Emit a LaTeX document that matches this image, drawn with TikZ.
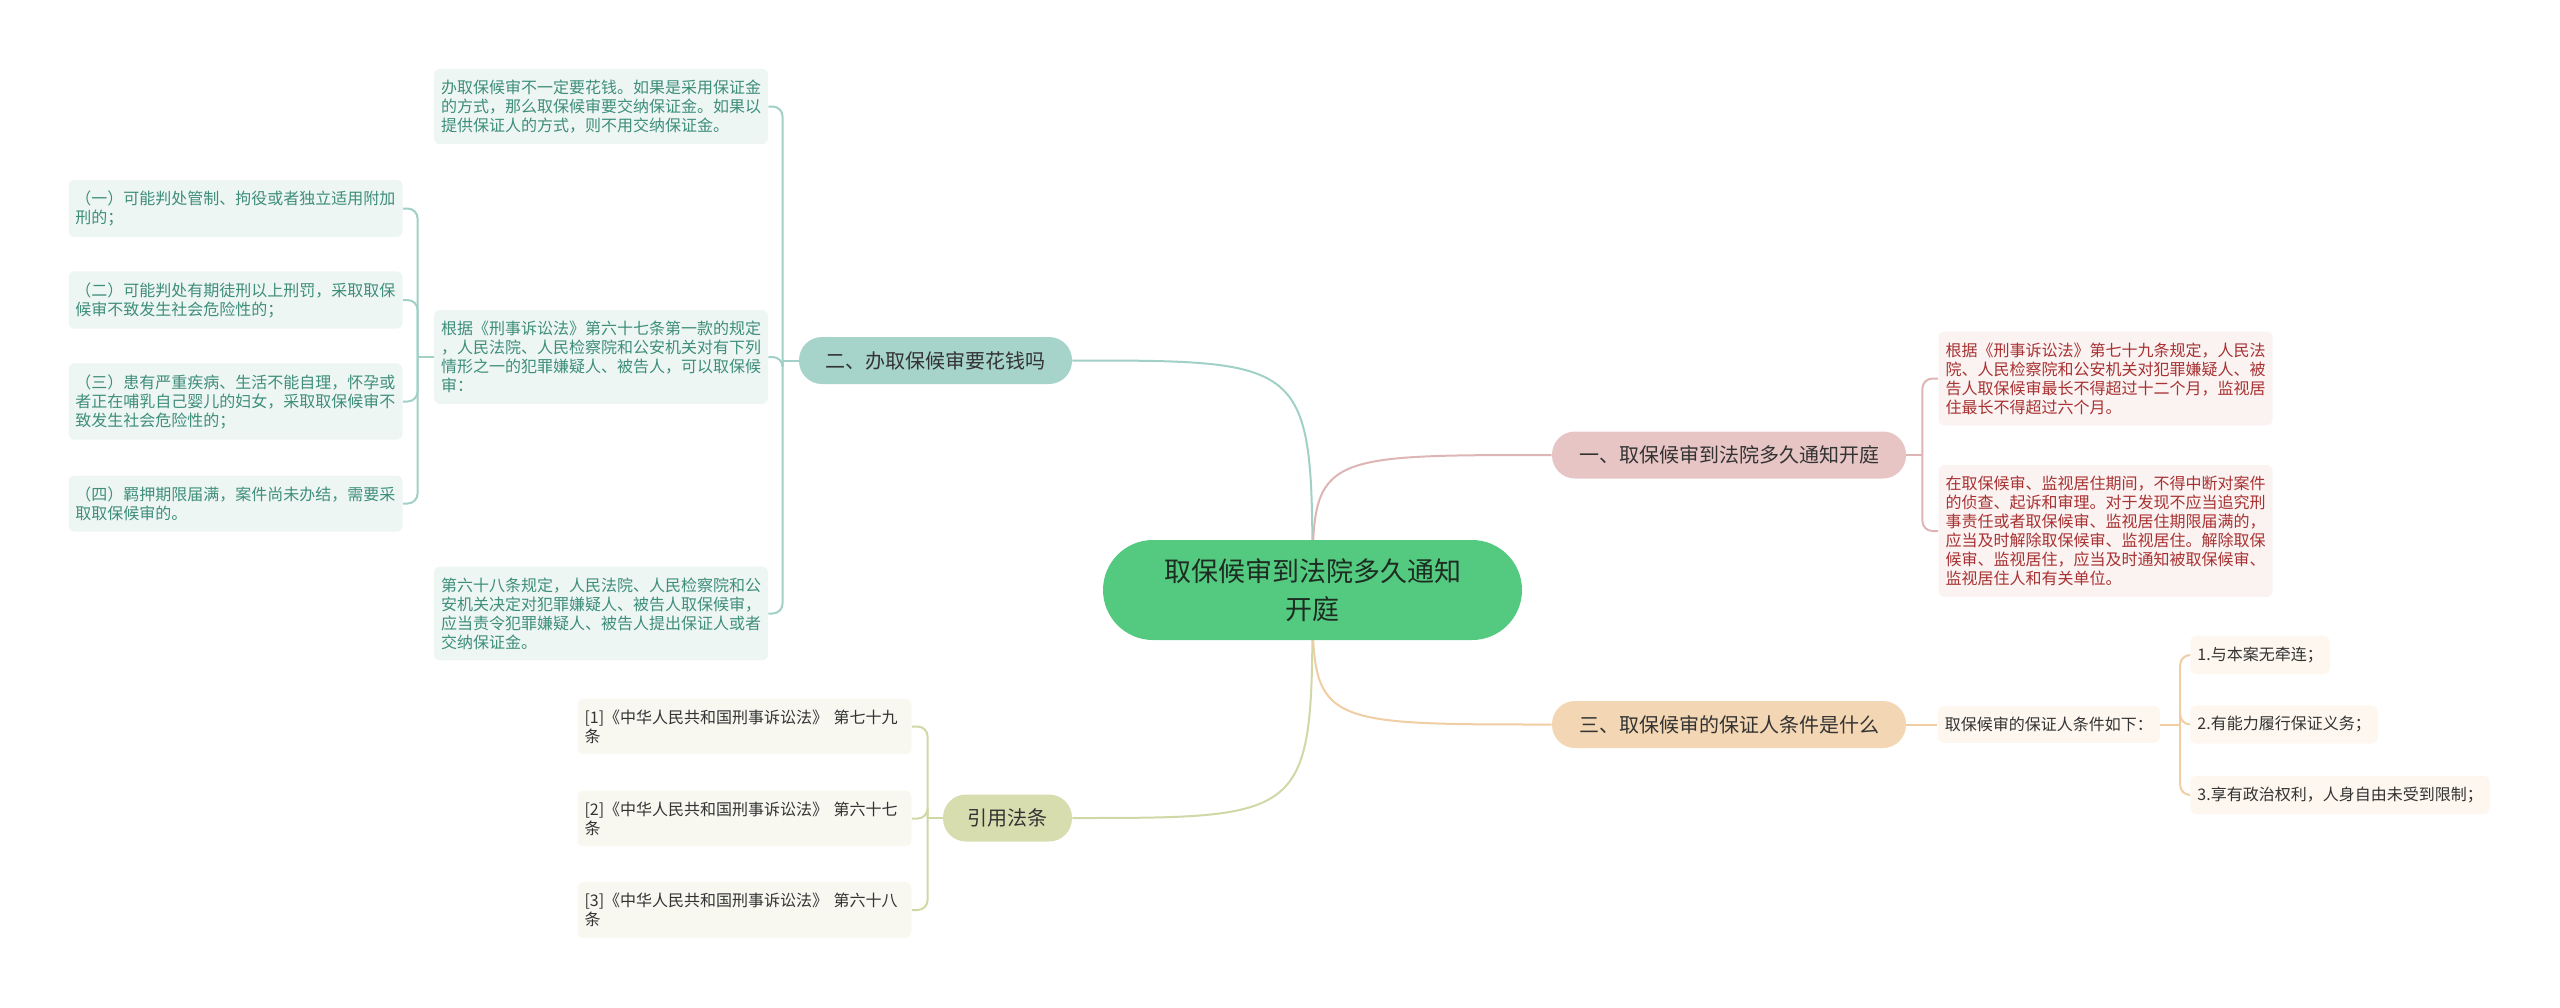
\documentclass[tikz,border=0pt]{standalone}
\usepackage{fontspec}
\setmainfont{Noto Sans CJK SC}
\usepackage{xcolor}
\usetikzlibrary{backgrounds,positioning}
\definecolor{cengreen}{HTML}{54CA80}
\definecolor{rootink}{HTML}{1D2D22}
\definecolor{topicink}{HTML}{333333}
\definecolor{tealtopic}{HTML}{A6D3CA}
\definecolor{tealfill}{HTML}{EEF6F4}
\definecolor{tealink}{HTML}{3E8E7A}
\definecolor{tealline}{HTML}{A0D0C6}
\definecolor{olivetopic}{HTML}{D8DDAF}
\definecolor{olivefill}{HTML}{F8F8F1}
\definecolor{oliveline}{HTML}{D2D7A6}
\definecolor{pinktopic}{HTML}{E8C5C5}
\definecolor{pinkfill}{HTML}{FBF2F2}
\definecolor{pinkink}{HTML}{A83232}
\definecolor{pinkline}{HTML}{DEB5B5}
\definecolor{orangetopic}{HTML}{F3D6B3}
\definecolor{orangefill}{HTML}{FDF7EF}
\definecolor{orangeline}{HTML}{F0CDA3}

\tikzset{
  root/.style={fill=cengreen, text=rootink, rounded corners=25pt, minimum width=209.5pt,
    minimum height=50pt, align=center, font=\fontsize{13.5}{19}\selectfont},
  topic/.style={text=topicink, rounded corners=11.5pt, minimum height=23.5pt,
    font=\fontsize{10}{12}\selectfont},
  leaf/.style={rounded corners=3pt, inner xsep=3.5pt, inner ysep=5.5pt, align=left,
    font=\fontsize{8}{9.5}\selectfont},
  wideleaf/.style={leaf, text width=160pt},
  tealleaf/.style={wideleaf, fill=tealfill, text=tealink},
  oliveleaf/.style={wideleaf, fill=olivefill, text=topicink},
  pinkleaf/.style={wideleaf, fill=pinkfill, text=pinkink},
  orangeleaf/.style={leaf, fill=orangefill, text=topicink},
  link/.style={line width=1pt},
  bracket/.style={line width=1pt, rounded corners=5pt}
}

\begin{document}
\begin{tikzpicture}[x=0.5pt,y=-0.5pt]
  \useasboundingbox (0,0) rectangle (2560,1007);

  \node[root] (cen) at (1312.5,590) {取保候审到法院多久通知\\开庭};

  \node[topic, fill=tealtopic, minimum width=136.5pt] (fee) at (935.5,360.5) {二、办取保候审要花钱吗};
  \node[topic, fill=olivetopic, minimum width=64.5pt] (cite) at (1007.5,818) {引用法条};
  \node[topic, fill=pinktopic, minimum width=177pt] (time) at (1729,455) {一、取保候审到法院多久通知开庭};
  \node[topic, fill=orangetopic, minimum width=177pt] (surety) at (1729,724.5) {三、取保候审的保证人条件是什么};

  \node[tealleaf] (fee1) at (601,106.5) {办取保候审不一定要花钱。如果是采用保证金\\的方式，那么取保候审要交纳保证金。如果以\\提供保证人的方式，则不用交纳保证金。};
  \node[tealleaf] (fee2) at (601,357) {根据《刑事诉讼法》第六十七条第一款的规定\\，人民法院、人民检察院和公安机关对有下列\\情形之一的犯罪嫌疑人、被告人，可以取保候\\审：};
  \node[tealleaf] (fee3) at (601,613.5) {第六十八条规定，人民法院、人民检察院和公\\安机关决定对犯罪嫌疑人、被告人取保候审，\\应当责令犯罪嫌疑人、被告人提出保证人或者\\交纳保证金。};

  \node[tealleaf] (case1) at (235.5,208.5) {（一）可能判处管制、拘役或者独立适用附加\\刑的；};
  \node[tealleaf] (case2) at (235.5,300) {（二）可能判处有期徒刑以上刑罚，采取取保\\候审不致发生社会危险性的；};
  \node[tealleaf] (case3) at (235.5,401.5) {（三）患有严重疾病、生活不能自理，怀孕或\\者正在哺乳自己婴儿的妇女，采取取保候审不\\致发生社会危险性的；};
  \node[tealleaf] (case4) at (235.5,503.5) {（四）羁押期限届满，案件尚未办结，需要采\\取取保候审的。};

  \node[oliveleaf] (law1) at (744.5,726.5) {[1]《中华人民共和国刑事诉讼法》 第七十九\\条};
  \node[oliveleaf] (law2) at (744.5,818.5) {[2]《中华人民共和国刑事诉讼法》 第六十七\\条};
  \node[oliveleaf] (law3) at (744.5,910) {[3]《中华人民共和国刑事诉讼法》 第六十八\\条};

  \node[pinkleaf] (time1) at (2105.5,378.5) {根据《刑事诉讼法》第七十九条规定，人民法\\院、人民检察院和公安机关对犯罪嫌疑人、被\\告人取保候审最长不得超过十二个月，监视居\\住最长不得超过六个月。};
  \node[pinkleaf] (time2) at (2105.5,531) {在取保候审、监视居住期间，不得中断对案件\\的侦查、起诉和审理。对于发现不应当追究刑\\事责任或者取保候审、监视居住期限届满的，\\应当及时解除取保候审、监视居住。解除取保\\候审、监视居住，应当及时通知被取保候审、\\监视居住人和有关单位。};

  \node[orangeleaf, right=15.5pt of surety] (cond) {取保候审的保证人条件如下：};
  \node[orangeleaf, anchor=west] (cond1) at (2190,655) {1.与本案无牵连；};
  \node[orangeleaf, anchor=west] (cond2) at (2190,724.5) {2.有能力履行保证义务；};
  \node[orangeleaf, anchor=west] (cond3) at (2190,795) {3.享有政治权利，人身自由未受到限制；};

  \begin{scope}[on background layer]
    \draw[link, tealline] (fee.east) .. controls (cen.center |- fee.east) .. (cen.center);
    \draw[link, oliveline] (cite.east) .. controls (cen.center |- cite.east) .. (cen.center);
    \draw[link, pinkline] (cen.center) .. controls (cen.center |- time.west) .. (time.west);
    \draw[link, orangeline] (cen.center) .. controls (cen.center |- surety.west) .. (surety.west);

    \draw[link, tealline] (fee.west) -- ++(-16,0) coordinate (feebus);
    \foreach \n in {fee1,fee2,fee3}
      \draw[bracket, tealline] (feebus) |- (\n.east);
    \draw[link, tealline] (fee2.west) -- ++(-16,0) coordinate (casebus);
    \foreach \n in {case1,case2,case3,case4}
      \draw[bracket, tealline] (casebus) |- (\n.east);
    \draw[link, oliveline] (cite.west) -- ++(-15,0) coordinate (lawbus);
    \foreach \n in {law1,law2,law3}
      \draw[bracket, oliveline] (lawbus) |- (\n.east);
    \draw[link, pinkline] (time.east) -- ++(16,0) coordinate (timebus);
    \foreach \n in {time1,time2}
      \draw[bracket, pinkline] (timebus) |- (\n.west);
    \draw[link, orangeline] (surety.east) -- (cond.west);
    \draw[link, orangeline] (cond.east) -- ++(20,0) coordinate (condbus);
    \foreach \n in {cond1,cond2,cond3}
      \draw[bracket, orangeline] (condbus) |- (\n.west);
  \end{scope}
\end{tikzpicture}
\end{document}
